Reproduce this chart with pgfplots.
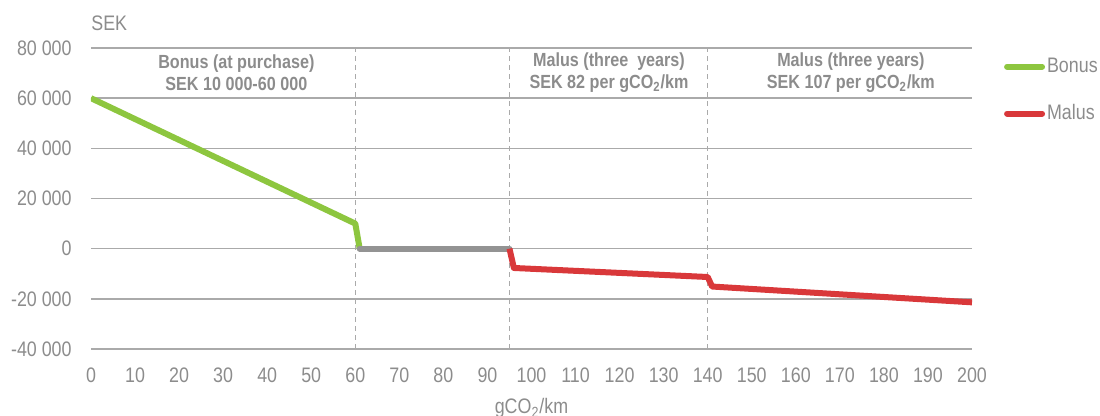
\documentclass[border=0pt]{standalone}
\usepackage{fontspec}
\setmainfont{Liberation Sans}[FakeStretch=0.85]
\usepackage{pgfplots}
\pgfplotsset{compat=1.18}
\definecolor{txtgrey}{RGB}{140,140,140}
\definecolor{gridgrey}{RGB}{170,170,170}
\definecolor{bonusgreen}{RGB}{141,198,63}
\definecolor{malusred}{RGB}{217,56,58}
\definecolor{zerogrey}{RGB}{147,147,147}
\begin{document}
\begin{tikzpicture}
\useasboundingbox (-45.5pt,-33.5pt) rectangle (504.5pt,174.5pt);
\begin{axis}[
 at={(0pt,0pt)}, anchor=south west,
 scale only axis, width=440.5pt, height=150.5pt,
 xmin=0, xmax=200, ymin=-40000, ymax=80000,
 clip mode=individual,
 xtick={0,10,...,200},
 ytick={-40000,-20000,0,20000,40000,60000,80000},
 yticklabels={-40 000,-20 000,0,20 000,40 000,60 000,80 000},
 scaled y ticks=false,
 /pgf/number format/assume math mode=true,
 axis line style={draw=none},
 major tick length=0pt,
 tick style={draw=none},
 ymajorgrids, grid style={gridgrey, line width=0.75pt},
 ticklabel style={font=\fontsize{10.5}{12}\selectfont, text=txtgrey, inner sep=0pt},
 yticklabel style={xshift=-9.5pt},
 xticklabel style={yshift=-9pt},
 legend style={at={(1.033,0.9668)}, anchor=north west, draw=none, fill=none,
   inner sep=0pt, outer sep=0pt, row sep=14.5pt, font=\fontsize{10.5}{12}\selectfont, text=txtgrey,
   nodes={inner sep=0pt, outer sep=0pt}},
 legend cell align=left,
 legend image code/.code={\path (0pt,0pt) (20pt,0pt);\draw[#1, line cap=round] (1.5pt,0pt) -- (19pt,0pt);},
]
\addplot[gridgrey, line width=0.6pt, dash pattern=on 2.5pt off 2pt, forget plot] coordinates {(60,-40000) (60,80000)};
\addplot[gridgrey, line width=0.6pt, dash pattern=on 2.5pt off 2pt, forget plot] coordinates {(95,-40000) (95,80000)};
\addplot[gridgrey, line width=0.6pt, dash pattern=on 2.5pt off 2pt, forget plot] coordinates {(140,-40000) (140,80000)};
\addplot[bonusgreen, line width=3pt, line join=round] coordinates {(0,60000) (60,10000) (61,0)};
\addlegendentry{Bonus}
\addplot[zerogrey, line width=3pt, line cap=round, forget plot] coordinates {(61,0) (95,0)};
\addplot[malusred, line width=3pt, line join=round] coordinates {(95,0) (96,-7700) (140,-11300) (141,-15100) (200,-21400)};
\addlegendentry{Malus}
\node[anchor=base west, inner sep=0pt, font=\fontsize{10.5}{12}\selectfont, text=txtgrey] at (rel axis cs:0,1) [yshift=9pt] {SEK};
\node[anchor=base, inner sep=0pt, font=\fontsize{10.5}{12}\selectfont, text=txtgrey] at (rel axis cs:0.5,0) [yshift=-32.5pt] {gCO\textsubscript{2}/km};
\node[align=center, inner sep=0pt, font=\fontsize{9.5}{11}\selectfont\bfseries, text=txtgrey] at (axis cs:33,70033) {Bonus (at purchase)\\SEK 10 000-60 000};
\node[align=center, inner sep=0pt, font=\fontsize{9.5}{11}\selectfont\bfseries, text=txtgrey] at (axis cs:117.6,70033) {Malus (three~ years)\\SEK 82 per gCO\textsubscript{2}/km};
\node[align=center, inner sep=0pt, font=\fontsize{9.5}{11}\selectfont\bfseries, text=txtgrey] at (axis cs:172.5,70033) {Malus (three years)\\SEK 107 per gCO\textsubscript{2}/km};
\end{axis}
\end{tikzpicture}
\end{document}
